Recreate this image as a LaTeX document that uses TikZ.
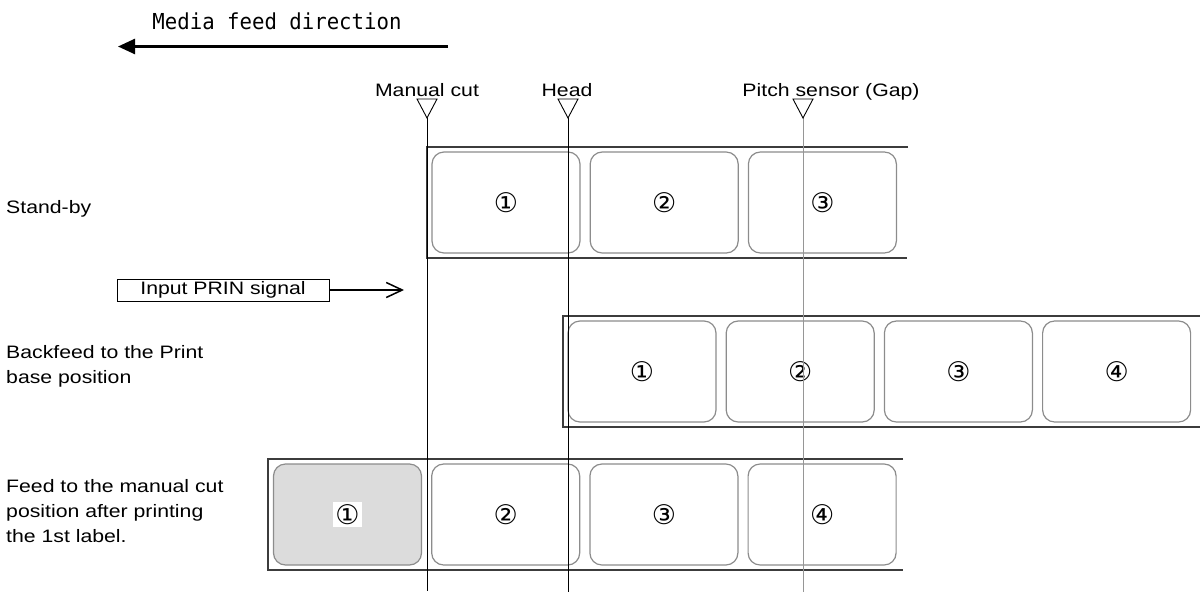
\documentclass[tikz,border=0pt]{standalone}
\usepackage{fontspec}
\newfontfamily\txtfont{Liberation Sans}[FakeStretch=1.18]
\newfontfamily\numfont{DejaVu Sans}
\newfontfamily\feedfont{DejaVu Sans Mono}[FakeStretch=0.94]
\usetikzlibrary{arrows.meta,positioning}
\definecolor{edge}{RGB}{60,60,60}
\definecolor{lblgrey}{RGB}{140,140,140}
\definecolor{sensorgrey}{RGB}{150,150,150}
\definecolor{printed}{RGB}{220,220,220}

\begin{document}
\begin{tikzpicture}[x=1pt, y=-1pt,
  txt/.style={font=\txtfont\fontsize{18}{25}\selectfont, inner sep=0pt},
  lbl/.style={draw=lblgrey, line width=1.2pt, rounded corners=12pt, minimum width=148pt, minimum height=101pt, inner sep=0pt, font=\numfont\fontsize{27}{27}\selectfont},
  numtag/.style={fill=white, inner sep=2.5pt, font=\numfont\fontsize{27}{27}\selectfont},
  strip/.style={draw=edge, line width=1.4pt},
  tri/.style={draw, line width=0.9pt, fill=white},
  sensor/.style={line width=1pt},
  arrow/.style={-{Straight Barb[length=16pt, width=15pt]}, line width=1.5pt},
]
  \useasboundingbox (0,0) rectangle (1200,595);

  % feed direction
  \node[font=\feedfont\fontsize{22}{24}\selectfont, anchor=base, inner sep=0pt] (feed) at (277,29) {Media feed direction};
  \coordinate (feedstart) at (448,46.5);
  \coordinate (feedend) at (118,46.5);
  \draw[-{Triangle[length=17pt, width=15pt]}, line width=2.5pt] (feedstart) -- (feedend);

  % media strips
  \draw[strip] (908,147) -- (427,147) -- (427,258) -- (907,258);
  \draw[strip] (1200,316) -- (563,316) -- (563,427) -- (1200,427);
  \draw[strip] (903,459) -- (268,459) -- (268,570) -- (903,570);

  % stand-by
  \node[lbl] (s1) at (506,202.5) {①};
  \node[lbl, right=9pt of s1] (s2) {②};
  \node[lbl, right=9pt of s2] (s3) {③};

  % backfeed
  \node[lbl] (b1) at (642,371.5) {①};
  \node[lbl, right=9pt of b1] (b2) {②};
  \node[lbl, right=9pt of b2] (b3) {③};
  \node[lbl, right=9pt of b3] (b4) {④};

  % after printing
  \node[lbl, fill=printed] (f1) at (347.5,514.5) {};
  \node[numtag] (f1n) at (f1.center) {①};
  \node[lbl, right=9pt of f1] (f2) {②};
  \node[lbl, right=9pt of f2] (f3) {③};
  \node[lbl, right=9pt of f3] (f4) {④};

  % sensor positions
  \coordinate (cut) at (427,118);
  \coordinate (head) at (568,118);
  \coordinate (pitch) at (803,118);
  \draw[sensor] (cut) -- (427,591);
  \draw[sensor] (head) -- (568,592);
  \draw[sensor, sensorgrey] (pitch) -- (803,592);
  \draw[tri] (417,99) -- (437,99) -- (cut) -- cycle;
  \draw[tri] (558,99) -- (578,99) -- (head) -- cycle;
  \draw[tri] (793,99) -- (813,99) -- (pitch) -- cycle;
  \node[txt, anchor=base] (cutlabel) at (427,96) {Manual cut};
  \node[txt, anchor=base] (headlabel) at (567,96) {Head};
  \node[txt, anchor=base] (pitchlabel) at (831,96) {Pitch sensor (Gap)};

  % PRIN signal
  \node[txt, draw, line width=1pt, minimum width=212pt, minimum height=22pt] (prin) at (223,290) {Input PRIN signal};
  \coordinate (prinend) at (404,290);
  \draw[arrow] (prin) -- (prinend);

  % row captions
  \node[txt, anchor=base west, align=left] (standby) at (6,213) {Stand-by};
  \node[txt, anchor=base west, align=left] (backfeed) at (6,383) {Backfeed to the Print\\base position};
  \node[txt, anchor=base west, align=left] (feedcut) at (6,542) {Feed to the manual cut\\position after printing\\the 1st label.};
\end{tikzpicture}
\end{document}
